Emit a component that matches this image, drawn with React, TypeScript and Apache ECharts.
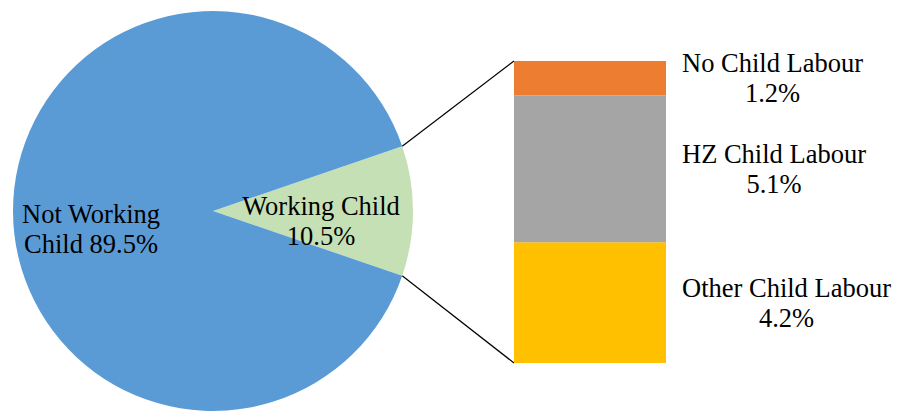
import React, { useEffect, useRef } from "react";
import * as echarts from "echarts";

const pieNames = ["Working Child", "Not Working Child"];
const pieValues = [10.5, 89.5];
const pieColors = ["#C5E0B4", "#5B9BD5"];

const barNames = ["Other Child Labour", "HZ Child Labour", "No Child Labour"];
const barValues = [4.2, 5.1, 1.2];
const barColors = ["#FFC000", "#A5A5A5", "#ED7D31"];

const FONT = "Liberation Serif";
const FONT_SIZE = 26.5;

function textWidth(s: string): number {
  const c = document.createElement("canvas").getContext("2d");
  if (!c) return s.length * FONT_SIZE * 0.45;
  c.font = FONT_SIZE + "px " + FONT;
  return c.measureText(s).width;
}

export default function App() {
  const ref = useRef<HTMLDivElement>(null);
  useEffect(() => {
    if (!ref.current) return;
    const chart = echarts.init(ref.current, undefined, { renderer: "svg" });
    const cx = 213, cy = 211, r = 200;
    const pieTotal = pieValues.reduce((a, b) => a + b, 0);
    const half = (pieValues[0] / pieTotal) * 180;
    const barTotal = barValues.reduce((a, b) => a + b, 0);
    const gLeft = 514, gTop = 61, gW = 152, gH = 302;
    const rad = (half * Math.PI) / 180;
    const ex = cx + r * Math.cos(rad);
    const eyTop = cy - r * Math.sin(rad);
    const eyBot = cy + r * Math.sin(rad);

    chart.setOption({
      animation: false,
      grid: { left: gLeft, top: gTop, width: gW, height: gH },
      xAxis: { type: "category", data: ["Working Child"], show: false },
      yAxis: { type: "value", min: 0, max: barTotal, show: false },
      series: [
        {
          type: "pie",
          center: [cx, cy],
          radius: [0, r],
          startAngle: half,
          clockwise: true,
          silent: true,
          itemStyle: { borderWidth: 0 },
          label: {
            show: true,
            position: "inside",
            fontFamily: FONT,
            fontSize: FONT_SIZE,
            lineHeight: 30,
            color: "#000",
            align: "center",
            formatter: (p: any) =>
              p.dataIndex === 0
                ? "Working Child\n" + p.value + "%"
                : "Not Working\nChild " + p.value + "%",
          },
          labelLayout: (p: any) =>
            p.dataIndex === 0 ? { dx: 5, dy: 9.5 } : { dx: -19, dy: 18 },
          data: pieNames.map((n, i) => ({
            name: n,
            value: pieValues[i],
            itemStyle: { color: pieColors[i] },
          })),
        },
        ...barNames.map((n, i) => {
          const pct = barValues[i] + "%";
          const w = Math.max(textWidth(n), textWidth(pct));
          return {
            type: "bar",
            name: n,
            stack: "wc",
            barWidth: "100%",
            silent: true,
            itemStyle: { color: barColors[i] },
            label: {
              show: true,
              position: "right",
              distance: 16 + w / 2,
              align: "center",
              verticalAlign: "middle",
              fontFamily: FONT,
              fontSize: FONT_SIZE,
              lineHeight: 30,
              color: "#000",
              formatter: n + "\n" + pct,
            },
            data: [barValues[i]],
          };
        }),
      ],
      graphic: [
        {
          type: "line",
          shape: { x1: ex, y1: eyTop, x2: gLeft, y2: gTop },
          style: { stroke: "#000", lineWidth: 1.2 },
          silent: true,
        },
        {
          type: "line",
          shape: { x1: ex, y1: eyBot, x2: gLeft, y2: gTop + gH },
          style: { stroke: "#000", lineWidth: 1.2 },
          silent: true,
        },
      ],
    });
    return () => chart.dispose();
  }, []);
  return (
    <div
      ref={ref}
      style={{ position: "fixed", left: 0, top: 0, width: 903, height: 414, background: "#fff" }}
    />
  );
}
